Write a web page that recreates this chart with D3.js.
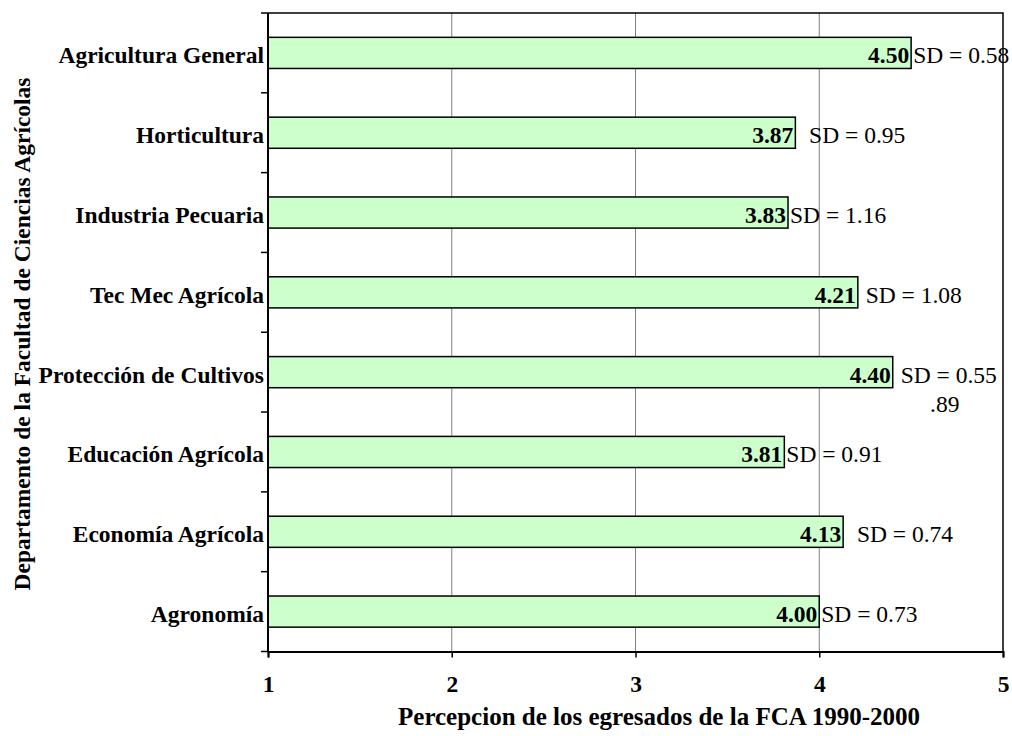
<!DOCTYPE html>
<html>
<head>
<meta charset="utf-8">
<script src="https://cdn.jsdelivr.net/npm/d3@7"></script>
<style>
	body { margin: 0; background: #fff; }
	text { font-family: "Liberation Serif", "Times New Roman", serif; white-space: pre; }
</style>
</head>
<body>
<div id="container"></div>
<script>
// data
var departments = ["Agricultura General", "Horticultura", "Industria Pecuaria", "Tec Mec Agrícola",
	"Protección de Cultivos", "Educación Agrícola", "Economía Agrícola", "Agronomía"];
var means = [4.50, 3.87, 3.83, 4.21, 4.40, 3.81, 4.13, 4.00];
var sdLabels = ["SD = 0.58", "  SD = 0.95", "SD = 1.16", " SD = 1.08",
	" SD = 0.55", "SD = 0.91", "  SD = 0.74", "SD = 0.73"];
var sdExtra = ["", "", "", "", "      .89", "", "", ""]; // stray second line under one label
var xTicks = [1, 2, 3, 4, 5];
var xTitle = "Percepcion de los egresados de la FCA 1990-2000";
var yTitle = "Departamento de la Facultad de Ciencias Agrícolas";

(function()
{
	var width = 1012, height = 736;
	var left = 268, right = 1003, top = 13, bottom = 651.5;
	var fontSize = 23.5;

	var svg = d3.select("#container").append("svg")
		.attr("width", width)
		.attr("height", height);

	var x = d3.scaleLinear().domain([1, 5]).range([left, right]);
	var y = d3.scaleBand().domain(departments).range([top, bottom])
		.paddingInner(0.61).paddingOuter(0.305);
	var step = y.step();

	// vertical grid lines
	svg.selectAll(".grid")
		.data(xTicks.slice(1, -1))
		.enter().append("line")
		.attr("x1", function(d) { return x(d); })
		.attr("x2", function(d) { return x(d); })
		.attr("y1", top)
		.attr("y2", bottom)
		.style("stroke", "#808080")
		.style("stroke-width", "1px");

	// top and right border
	svg.append("path")
		.attr("d", "M" + left + "," + top + "H" + right + "V" + bottom)
		.style("fill", "none")
		.style("stroke", "#000")
		.style("stroke-width", "1.5px");

	// bars
	svg.selectAll(".bar")
		.data(departments)
		.enter().append("rect")
		.attr("x", x(1))
		.attr("y", function(d) { return y(d); })
		.attr("width", function(d, i) { return x(means[i]) - x(1); })
		.attr("height", y.bandwidth())
		.attr("fill", "#ccffcc")
		.style("stroke", "#000")
		.style("stroke-width", "1.5px");

	// mean labels inside the bar end
	svg.selectAll(".mean")
		.data(departments)
		.enter().append("text")
		.attr("x", function(d, i) { return x(means[i]) - 2; })
		.attr("y", function(d) { return y(d) + y.bandwidth() / 2 + 10.5; })
		.attr("text-anchor", "end")
		.style("font-size", fontSize + "px")
		.style("font-weight", "bold")
		.text(function(d, i) { return means[i].toFixed(2); });

	// SD labels right of the bar
	var sd = svg.selectAll(".sd")
		.data(departments)
		.enter().append("text")
		.attr("x", function(d, i) { return x(means[i]) + 2; })
		.attr("y", function(d) { return y(d) + y.bandwidth() / 2 + 10.5; })
		.style("font-size", fontSize + "px");
	sd.append("tspan").text(function(d, i) { return sdLabels[i]; });
	sd.filter(function(d, i) { return sdExtra[i] !== ""; })
		.append("tspan")
		.attr("x", function(d) { return x(means[departments.indexOf(d)]) + 2; })
		.attr("dy", 29)
		.text(function(d) { return sdExtra[departments.indexOf(d)]; });

	// left axis line and ticks on category boundaries
	svg.append("line")
		.attr("x1", left).attr("x2", left)
		.attr("y1", top).attr("y2", bottom + 1)
		.style("stroke", "#000")
		.style("stroke-width", "2px");
	svg.selectAll(".ytick")
		.data(d3.range(departments.length + 1))
		.enter().append("line")
		.attr("x1", left - 7).attr("x2", left)
		.attr("y1", function(i) { return top + i * step; })
		.attr("y2", function(i) { return top + i * step; })
		.style("stroke", "#000")
		.style("stroke-width", "1.5px");

	// category labels
	svg.selectAll(".cat")
		.data(departments)
		.enter().append("text")
		.attr("x", left - 4)
		.attr("y", function(d) { return y(d) + y.bandwidth() / 2 + 10.5; })
		.attr("text-anchor", "end")
		.style("font-size", fontSize + "px")
		.style("font-weight", "bold")
		.text(function(d) { return d; });

	// bottom axis
	var xAxis = d3.axisBottom(x).tickValues(xTicks).tickSize(6).tickPadding(22).tickFormat(d3.format("d"));
	var gx = svg.append("g")
		.attr("transform", "translate(0," + bottom + ")")
		.call(xAxis);
	gx.select(".domain").style("stroke", "#000").style("stroke-width", "2px");
	gx.selectAll(".tick line").style("stroke", "#000").style("stroke-width", "1.5px");
	gx.selectAll(".tick text")
		.attr("dy", null)
		.attr("y", 692 - bottom)
		.style("font-family", "Liberation Serif, serif")
		.style("font-size", fontSize + "px")
		.style("font-weight", "bold")
		.style("fill", "#000");

	// axis titles
	svg.append("text")
		.attr("x", 659)
		.attr("y", 725)
		.attr("text-anchor", "middle")
		.style("font-size", "25px")
		.style("font-weight", "bold")
		.text(xTitle);

	svg.append("text")
		.attr("transform", "translate(30,334) rotate(-90)")
		.attr("text-anchor", "middle")
		.style("font-size", fontSize + "px")
		.style("font-weight", "bold")
		.text(yTitle);
})();
</script>
</body>
</html>
